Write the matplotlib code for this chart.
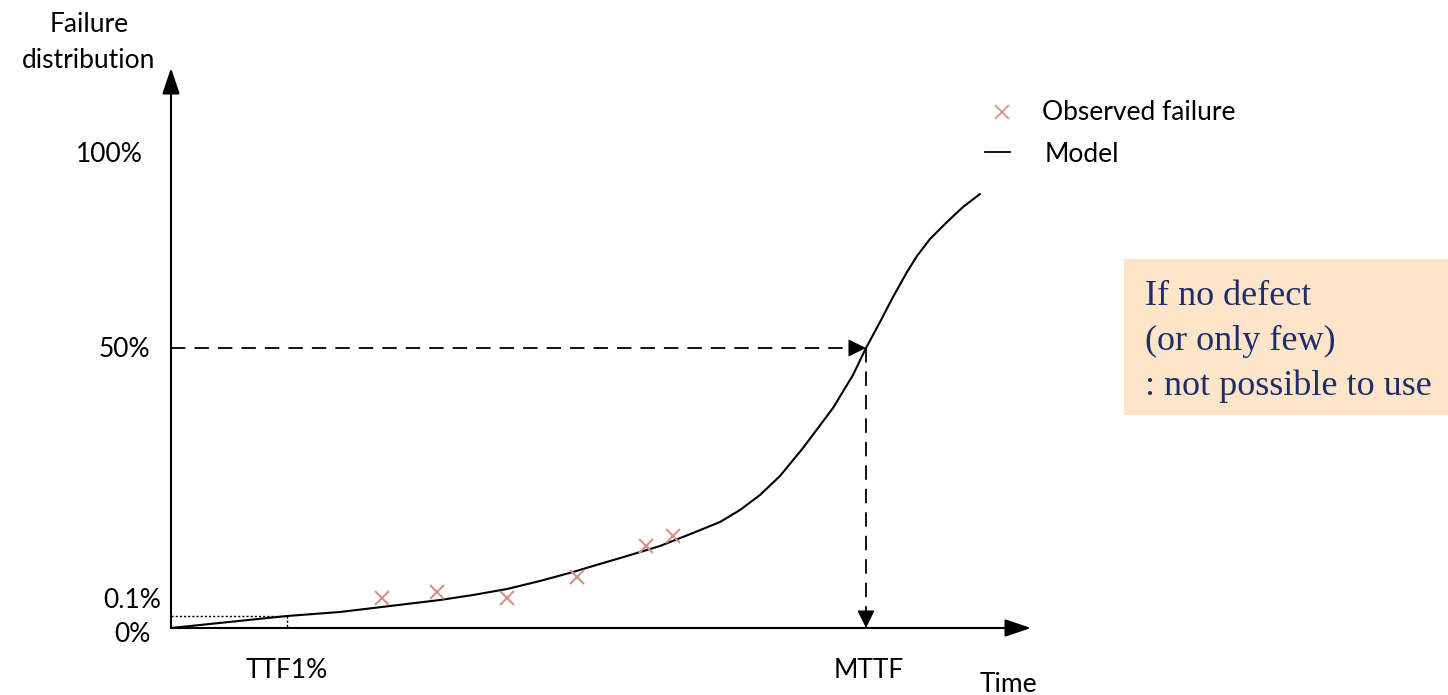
import numpy as np
import matplotlib.pyplot as plt
from matplotlib.patches import Rectangle

# Model curve (x: time, y: failure height, origin at axis corner)
model_x = [0, 116, 169, 219, 269, 302, 336, 369, 402, 422, 456, 489, 522, 549, 569, 589,
           609, 632, 662, 682, 695, 709, 722, 736, 746, 759, 776, 792, 809]
model_y = [0, 12, 16, 22, 28, 33, 39, 47, 56, 62, 72, 82, 95, 106, 118, 133,
           152, 180, 220, 253, 280, 306, 331, 356, 372, 389, 406, 421, 434]

# Observed failures
obs_x = [211, 266, 336, 406, 475, 502]
obs_y = [30, 36, 30, 51, 82, 92]

# Reference levels
ttf1_x, ttf1_y = 116, 12
mttf_x, mttf_y = 695, 280

# Tick labels on the y axis (label, baseline height)
y_labels = ['100%', '50%', '0.1%', '0%']
y_label_pos = [466, 271, 20, -14]
y_label_right = [-28, -21, -10, -20]

sans = ['Lato', 'DejaVu Sans']
serif = ['Liberation Serif', 'DejaVu Serif']
fs = 19
pink = '#D8918A'
navy = '#1F2D6B'

fig = plt.figure(figsize=(14.48, 6.95), dpi=100)
ax = fig.add_axes([0, 0, 1, 1])
ax.set_xlim(-171, 1277)
ax.set_ylim(-67, 628)
ax.axis('off')

# axes with arrow heads
axis_arrow = dict(arrowstyle='-|>,head_length=0.8,head_width=0.27', color='black',
                  lw=1.5, mutation_scale=20, shrinkA=0, shrinkB=0)
ax.annotate('', xy=(0, 560), xytext=(0, 0), arrowprops=axis_arrow)
ax.annotate('', xy=(860, 0), xytext=(0, 0), arrowprops=axis_arrow)

# TTF1% dotted guides
ax.plot([0, ttf1_x], [ttf1_y, ttf1_y], color='black', lw=1, ls=(0, (1.5, 1.5)))
ax.plot([ttf1_x, ttf1_x], [ttf1_y, 0], color='black', lw=1, ls=(0, (1.5, 1.5)))

# MTTF dashed guides
ax.plot([0, mttf_x - 14], [mttf_y, mttf_y], color='black', lw=1.3, ls=(0, (8, 5)))
ax.plot([mttf_x, mttf_x], [mttf_y, 14], color='black', lw=1.3, ls=(0, (8, 5)))
head = dict(arrowstyle='-|>,head_length=0.55,head_width=0.27', color='black',
            lw=1, mutation_scale=20, shrinkA=0, shrinkB=0)
ax.annotate('', xy=(mttf_x, mttf_y), xytext=(mttf_x - 15, mttf_y), arrowprops=head)
ax.annotate('', xy=(mttf_x, 0), xytext=(mttf_x, 15), arrowprops=head)

# model and observations
ax.plot(model_x, model_y, color='black', lw=1.5, solid_capstyle='round',
        solid_joinstyle='round')
ax.plot(obs_x, obs_y, ls='none', marker='x', ms=10, mew=1.5, color=pink)

# legend
ax.plot([831], [516], ls='none', marker='x', ms=10, mew=1.3, color=pink)
ax.plot([814, 839], [476, 476], color='black', lw=1.3)
ax.text(871, 508, 'Observed failure', fontsize=fs, family=sans, va='baseline')
ax.text(874, 466, 'Model', fontsize=fs, family=sans, va='baseline')

# axis titles and labels
ax.text(-82, 596, 'Failure', fontsize=fs, family=sans, ha='center', va='baseline')
ax.text(-82, 560, 'distribution', fontsize=fs, family=sans, ha='center', va='baseline')
for lab, yp, xr in zip(y_labels, y_label_pos, y_label_right):
    ax.text(xr, yp, lab, fontsize=fs, family=sans, ha='right', va='baseline')
ax.text(ttf1_x, -50, 'TTF1%', fontsize=fs, family=sans, ha='center', va='baseline')
ax.text(mttf_x + 3, -50, 'MTTF', fontsize=fs, family=sans, ha='center', va='baseline')
ax.text(837, -64, 'Time', fontsize=fs, family=sans, ha='center', va='baseline')

# note box
ax.add_patch(Rectangle((953, 213), 330, 156, facecolor='#FDE5CA', edgecolor='none'))
note = ['If no defect', '(or only few)', ': not possible to use']
for i, line in enumerate(note):
    ax.text(974, 323 - 45 * i, line, fontsize=26, family=serif, color=navy, va='baseline')

fig.savefig('out.png', dpi=100)
